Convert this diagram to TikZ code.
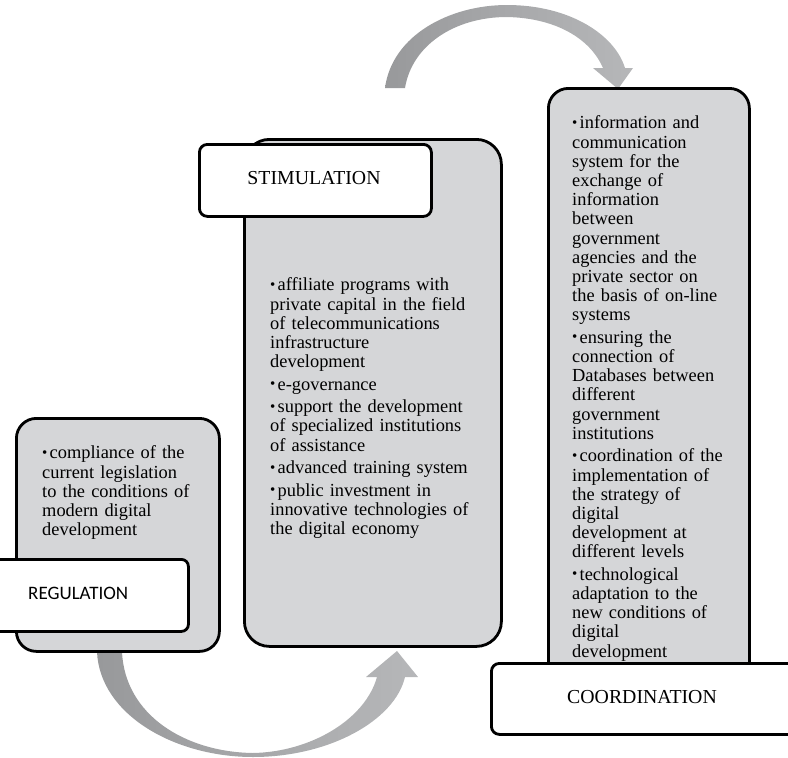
\documentclass[tikz,border=0pt]{standalone}
\usepackage{fontspec}
\setmainfont{Liberation Serif}
\newfontfamily\calfont{Carlito}
\definecolor{boxgrey}{RGB}{213,214,216}
\definecolor{arrdark}{RGB}{152,153,155}
\definecolor{arrmid}{RGB}{196,197,199}
\definecolor{arrlight}{RGB}{182,183,185}
\newcommand{\bul}{\par\noindent\hangindent=7.5pt\hangafter=1\makebox[7.5pt][l]{\raisebox{0.08em}{\fontsize{15}{15}\selectfont\textbullet}}}
\newcommand{\itemgap}{\par\vspace{3.3pt}}
\tikzset{
  greybox/.style={rectangle, draw=black, line width=2.8pt, fill=boxgrey, rounded corners=20pt, inner sep=0pt, anchor=north west},
  whitebox/.style={rectangle, draw=black, line width=2.8pt, fill=white, rounded corners=8pt, inner sep=0pt, anchor=north west},
  bodytext/.style={anchor=north west, inner sep=0pt, text width=#1, align=left, font=\fontsize{18.4}{19.2}\selectfont},
  titletext/.style={inner sep=0pt, font=\fontsize{19.8}{22}\selectfont},
  cyclearrow/.style={left color=arrdark, middle color=arrmid, right color=arrlight, draw=none}
}
\begin{document}
\begin{tikzpicture}[x=1pt,y=-1pt]
\useasboundingbox (0,0) rectangle (788,758);

% curved arrows (drawn first, boxes on top)
\shade[cyclearrow] (97,652) .. controls (100,715) and (175,757) .. (253,757)
  .. controls (330,757) and (395,720) .. (405,677) -- (418,677) -- (397,651) -- (366,677) -- (377,677)
  .. controls (365,720) and (310,752) .. (253,753)
  .. controls (185,752) and (125,715) .. (122,652) -- cycle;
\shade[cyclearrow] (385,88) .. controls (392,35) and (450,5) .. (507,5)
  .. controls (570,5) and (615,35) .. (625,68) -- (633,68) -- (618,89) -- (593,68) -- (603,68)
  .. controls (590,38) and (555,18) .. (507,17)
  .. controls (455,17) and (412,45) .. (405,88) -- cycle;

% REGULATION
\node[greybox, minimum width=203pt, minimum height=233pt] (regback) at (15,417) {};
\node[bodytext=170pt] (regtext) at (42,439.4) {%
\bul compliance of the\\ current legislation\\ to the conditions of\\ modern digital\\ development};
\node[whitebox, rounded corners=7pt, minimum width=210pt, minimum height=72pt] (regtitle) at (-23,558) {};
\node[titletext, anchor=west, font=\calfont\fontsize{19}{22}\selectfont] (reglabel) at (28,593) {REGULATION};

% STIMULATION
\node[greybox, rounded corners=25pt, minimum width=257pt, minimum height=507pt] (stimback) at (243,138) {};
\node[whitebox, minimum width=232pt, minimum height=72pt] (stimtitle) at (198,143) {};
\node[titletext] (stimlabel) at (314,178) {STIMULATION};
\node[bodytext=230pt] (stimtext) at (270,271.4) {%
\bul affiliate programs with\\ private capital in the field\\ of telecommunications\\ infrastructure\\ development
\itemgap\bul e-governance
\itemgap\bul support the development\\ of specialized institutions\\ of assistance
\itemgap\bul advanced training system
\itemgap\bul public investment in\\ innovative technologies of\\ the digital economy};

% COORDINATION
\node[greybox, minimum width=201pt, minimum height=613pt] (coordback) at (547,87) {};
\node[bodytext=200pt] (coordtext) at (572,109.4) {%
\bul information and\\ communication\\ system for the\\ exchange of\\ information\\ between\\ government\\ agencies and the\\ private sector on\\ the basis of on-line\\ systems
\itemgap\bul ensuring the\\ connection of\\ Databases between\\ different\\ government\\ institutions
\itemgap\bul coordination of the\\ implementation of\\ the strategy of\\ digital\\ development at\\ different levels
\itemgap\bul technological\\ adaptation to the\\ new conditions of\\ digital\\ development};
\node[whitebox, minimum width=320pt, minimum height=71pt] (coordtitle) at (490,662) {};
\node[titletext] (coordlabel) at (642,697.5) {COORDINATION};
\end{tikzpicture}
\end{document}
